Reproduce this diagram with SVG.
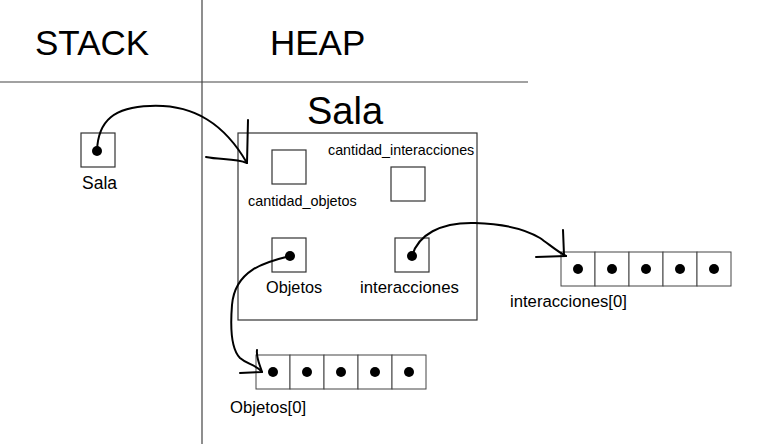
<svg xmlns="http://www.w3.org/2000/svg" width="757" height="444" viewBox="0 0 757 444">
<style>
text{font-family:"Liberation Sans",Arial,sans-serif;fill:#000}
.box{fill:#fff;stroke:#333;stroke-width:1.2}
.cell{fill:#fff;stroke:#444;stroke-width:1}
.dot{fill:#000}
.grid{stroke:#444;stroke-width:1.2;fill:none}
.conn{stroke:#000;stroke-width:2;fill:none;stroke-linecap:round}
</style>
<g id="grid">
<line class="grid" x1="202" y1="0" x2="202" y2="444"/>
<line class="grid" x1="0" y1="82" x2="528" y2="82"/>
<text x="35" y="55" font-size="35">STACK</text>
<text x="270" y="55" font-size="35">HEAP</text>
</g>
<g id="stack-sala">
<rect class="box" x="81" y="133" width="34" height="34"/>
<circle class="dot" cx="97" cy="151" r="5"/>
<text x="82" y="189" font-size="17.5">Sala</text>
</g>
<g id="heap-sala">
<text x="307" y="124" font-size="38">Sala</text>
<rect class="box" x="238" y="133" width="239" height="187"/>
</g>
<g id="cantidad_objetos">
<rect class="box" x="272" y="150" width="34" height="34"/>
<text x="248" y="206" font-size="14.4">cantidad_objetos</text>
</g>
<g id="cantidad_interacciones">
<text x="328" y="155" font-size="14.3">cantidad_interacciones</text>
<rect class="box" x="391" y="167" width="34" height="34"/>
</g>
<g id="objetos">
<rect class="box" x="272" y="238" width="34" height="34"/>
<circle class="dot" cx="290" cy="256" r="5"/>
<text x="266" y="293" font-size="16.3">Objetos</text>
</g>
<g id="interacciones">
<rect class="box" x="395" y="238" width="34" height="34"/>
<circle class="dot" cx="412" cy="256" r="5"/>
<text x="360" y="293" font-size="16.8">interacciones</text>
</g>
<g id="objetos-array">
<rect class="cell" x="256" y="355" width="34" height="34"/>
<rect class="cell" x="290" y="355" width="34" height="34"/>
<rect class="cell" x="324" y="355" width="34" height="34"/>
<rect class="cell" x="358" y="355" width="34" height="34"/>
<rect class="cell" x="392" y="355" width="34" height="34"/>
<circle class="dot" cx="273" cy="372" r="5"/>
<circle class="dot" cx="307" cy="372" r="5"/>
<circle class="dot" cx="341" cy="372" r="5"/>
<circle class="dot" cx="375" cy="372" r="5"/>
<circle class="dot" cx="409" cy="372" r="5"/>
<text x="230" y="413" font-size="16.7">Objetos[0]</text>
</g>
<g id="interacciones-array">
<rect class="cell" x="561" y="252" width="34" height="34"/>
<rect class="cell" x="595" y="252" width="34" height="34"/>
<rect class="cell" x="629" y="252" width="34" height="34"/>
<rect class="cell" x="663" y="252" width="34" height="34"/>
<rect class="cell" x="697" y="252" width="34" height="34"/>
<circle class="dot" cx="578" cy="269" r="5"/>
<circle class="dot" cx="612" cy="269" r="5"/>
<circle class="dot" cx="646" cy="269" r="5"/>
<circle class="dot" cx="680" cy="269" r="5"/>
<circle class="dot" cx="714" cy="269" r="5"/>
<text x="510" y="307" font-size="16.7">interacciones[0]</text>
</g>
<g id="connectors">
<path class="conn" d="M97,151 C98,120 115,107 150,106 C195,104 225,125 247,163"/>
<path class="conn" d="M248,120 L247,163 M206,157 C220,160 235,158 247,163"/>
<path class="conn" d="M290,256 C265,262 235,270 232,305 C230,330 232,350 240,358 C248,365 255,364 262,372"/>
<path class="conn" d="M257,350 C256,358 260,365 262,372 M240,373 L262,372"/>
<path class="conn" d="M412,256 C418,235 440,222 475,223 C510,224 530,232 540,238 C550,245 558,252 566,256"/>
<path class="conn" d="M563,230 L564,255 M536,257 L566,256"/>
</g>
</svg>
